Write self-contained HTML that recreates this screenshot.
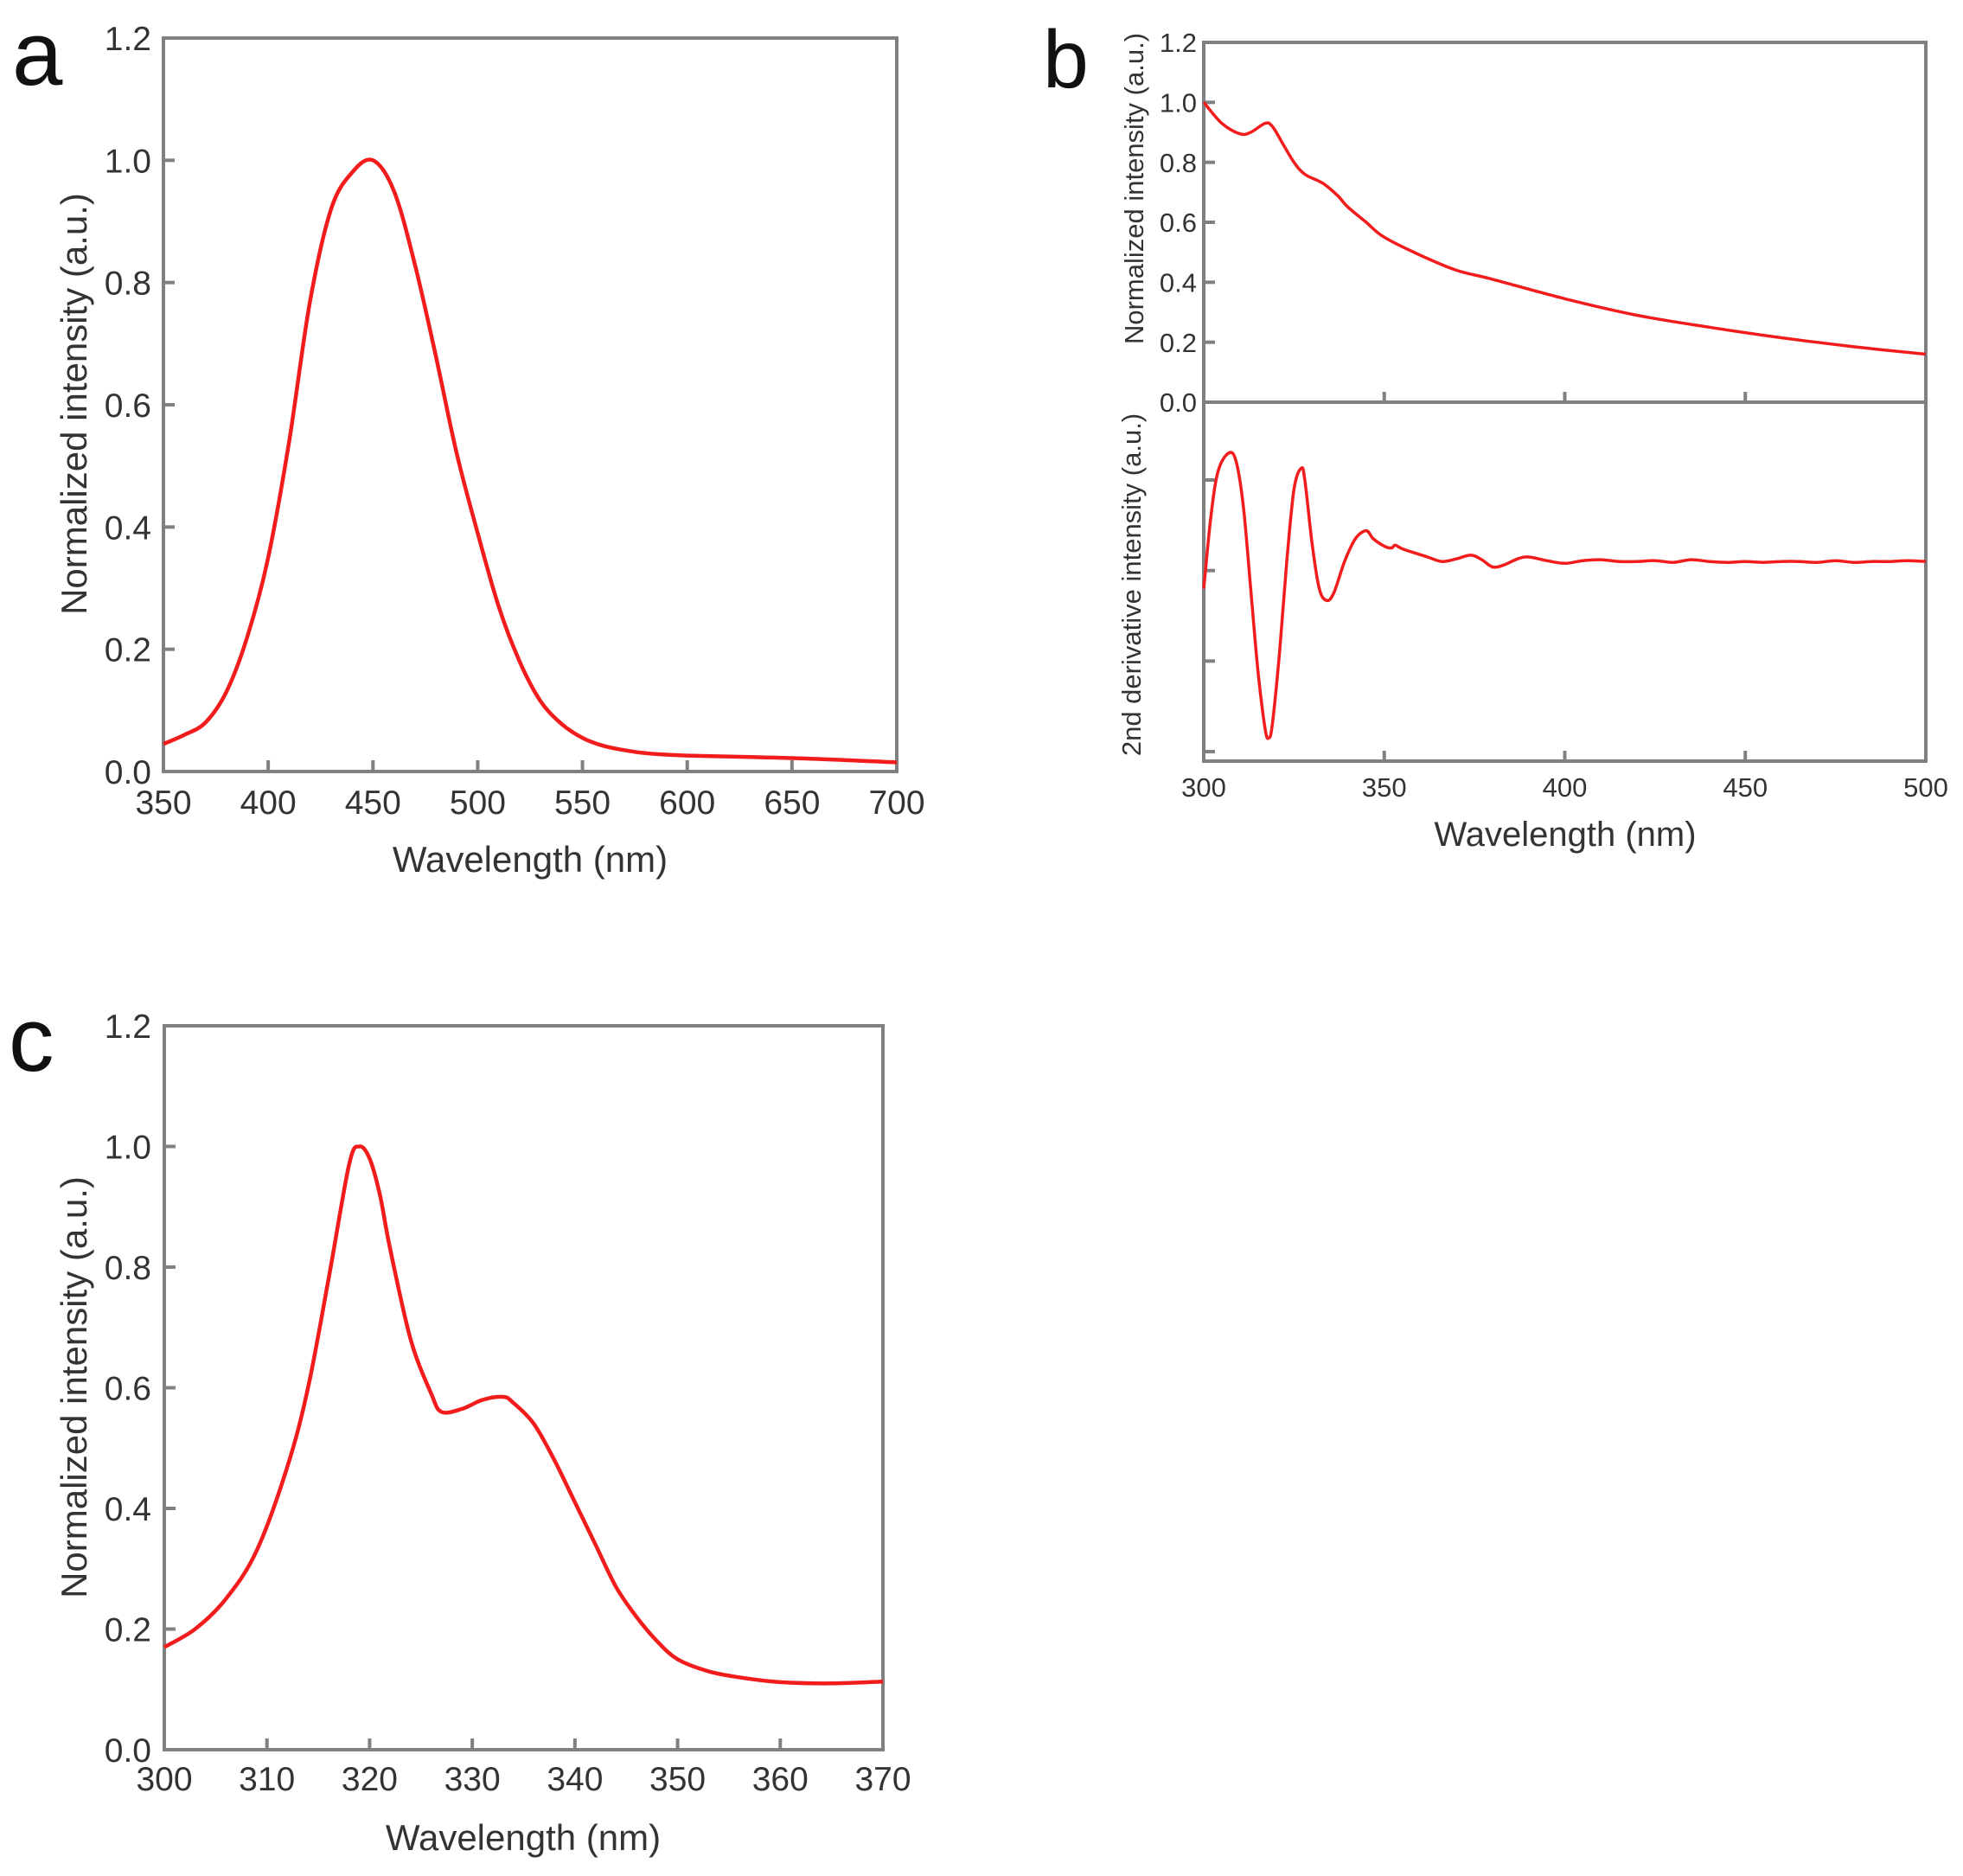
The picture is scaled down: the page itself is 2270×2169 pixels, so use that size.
<!DOCTYPE html>
<html><head><meta charset="utf-8"><style>
html,body{margin:0;padding:0;background:#fff;}
svg{display:block;}
text{font-family:"Liberation Sans",sans-serif;fill:#333;}
</style></head><body>
<svg id="fig" width="2270" height="2169" viewBox="0 0 2270 2169" xmlns="http://www.w3.org/2000/svg">
<text x="14" y="98" font-size="105" style="fill:#111">a</text>
<text x="1206" y="101" font-size="95" style="fill:#111">b</text>
<text x="10" y="1238" font-size="105" style="fill:#111">c</text>
</svg>
<script>
// Panel a data (emission)
const aX=[350,360,370,380,390,400,410,420,430,440,450,460,470,480,490,500,510,520,530,540,550,560,570,580,600,650,700];
const aY=[0.045,0.06,0.08,0.13,0.22,0.35,0.54,0.77,0.92,0.98,1.0,0.95,0.83,0.68,0.52,0.39,0.27,0.18,0.115,0.078,0.055,0.042,0.035,0.03,0.026,0.022,0.015];
const aXTicks=[350,400,450,500,550,600,650,700];
const aYTicks=[0.0,0.2,0.4,0.6,0.8,1.0,1.2];
// Panel b top (absorption)
const bX=[300,305,310,313,317,319,322,325,328,333,337,340,345,350,360,370,380,400,420,440,460,480,500];
const bY=[1.0,0.93,0.895,0.9,0.93,0.92,0.86,0.8,0.76,0.73,0.69,0.65,0.6,0.55,0.49,0.44,0.41,0.345,0.29,0.25,0.215,0.185,0.16];
// Panel b bottom (2nd derivative)
const dX=[300,302,304,307,309,311,313,315,317,318,319,321,323,325,327,328,330,332,334,336,339,342,345,347,350,352,353,355,358,362,366,370,374,377,380,383,387,390,395,400,405,410,415,420,425,430,435,440,445,450,455,460,465,470,475,480,485,490,495,500];
const dY=[-0.2,0.6,1.1,1.3,1.2,0.7,-0.2,-1.1,-1.75,-1.85,-1.7,-0.9,0.1,0.9,1.13,1.0,0.3,-0.2,-0.33,-0.25,0.1,0.35,0.44,0.35,0.27,0.25,0.28,0.24,0.2,0.15,0.1,0.13,0.17,0.12,0.04,0.06,0.13,0.15,0.11,0.08,0.11,0.12,0.1,0.1,0.11,0.09,0.12,0.1,0.09,0.1,0.09,0.1,0.1,0.09,0.11,0.09,0.1,0.1,0.11,0.1];
const bXTicks=[300,350,400,450,500];
const bYTicks=[0.0,0.2,0.4,0.6,0.8,1.0,1.2];
const dYTicks=[1,0,-1,-2];
// Panel c data (excitation)
const cX=[300,303,306,309,312,314,316,318,319,320,321,322,324,326,327,329,331,333,334,336,338,340,342,344,346,348,350,353,356,360,365,370];
const cY=[0.17,0.2,0.25,0.33,0.47,0.6,0.78,0.97,1.0,0.98,0.92,0.83,0.68,0.59,0.56,0.565,0.58,0.585,0.575,0.54,0.48,0.41,0.34,0.27,0.22,0.18,0.15,0.13,0.12,0.112,0.11,0.113];
const cXTicks=[300,310,320,330,340,350,360,370];

const NS="http://www.w3.org/2000/svg";
const svg=document.getElementById('fig');
function mk(tag,attrs,parent){const e=document.createElementNS(NS,tag);for(const k in attrs)e.setAttribute(k,attrs[k]);(parent||svg).appendChild(e);return e;}
function scale(d0,d1,r0,r1){return v=>r0+(v-d0)/(d1-d0)*(r1-r0);}
function smoothPath(xs,ys,sx,sy){
  const p=xs.map((x,i)=>[sx(x),sy(ys[i])]);
  let d='M'+p[0][0].toFixed(1)+','+p[0][1].toFixed(1);
  for(let i=0;i<p.length-1;i++){
    const p0=p[i-1]||p[i],p1=p[i],p2=p[i+1],p3=p[i+2]||p2;
    const c1=[p1[0]+(p2[0]-p0[0])/6,p1[1]+(p2[1]-p0[1])/6];
    const c2=[p2[0]-(p3[0]-p1[0])/6,p2[1]-(p3[1]-p1[1])/6];
    d+='C'+c1[0].toFixed(1)+','+c1[1].toFixed(1)+' '+c2[0].toFixed(1)+','+c2[1].toFixed(1)+' '+p2[0].toFixed(1)+','+p2[1].toFixed(1);
  }
  return d;
}
function frame(g,L,T,R,B){
  const r=mk('rect',{x:L,y:T,width:R-L,height:B-T,fill:'none',stroke:'#808080','stroke-width':4},g);
  
  
}
function xAxis(g,ticks,sx,B,labY,fs,tickUp,name){
  ticks.forEach(t=>{
    const x=sx(t);
    const tl=mk('line',{x1:x,x2:x,y1:B,y2:B-tickUp,stroke:'#808080','stroke-width':4},g);
    
    
    if(labY!==null){
      const tx=mk('text',{x:x,y:labY,'font-size':fs,'text-anchor':'middle'},g);
      tx.textContent=String(t);
      
      
    }
  });
}
function yAxis(g,ticks,sy,L,labX,fs,dec,name,showLab){
  ticks.forEach(t=>{
    const y=sy(t);
    const tl=mk('line',{x1:L,x2:L+13,y1:y,y2:y,stroke:'#808080','stroke-width':4},g);
    
    
    if(showLab){
      const tx=mk('text',{x:labX,y:y+fs*0.36,'font-size':fs,'text-anchor':'end'},g);
      tx.textContent=t.toFixed(dec);
      
      
    }
  });
}
function title(g,txt,x,y,fs,rot,name){
  const t=mk('text',{x:x,y:y,'font-size':fs,'text-anchor':'middle'},g);
  if(rot)t.setAttribute('transform','rotate(-90 '+x+' '+y+')');
  t.textContent=txt;
  
  
}
function curve(g,xs,ys,sx,sy,name,w){
  const p=mk('path',{d:smoothPath(xs,ys,sx,sy),fill:'none',stroke:'#f21c1c','stroke-width':w||4.5,'stroke-linejoin':'round'},g);
  
  
}

// Panel a
(function(){
  const g=mk('g',{});
  
  
  const L=189,R=1037,T=44,B=892;
  const sx=scale(350,700,L,R),sy=scale(0,1.2,B,T);
  frame(g,L,T,R,B);
  xAxis(g,aXTicks,sx,B,941,39,13,'panel-a');
  yAxis(g,aYTicks,sy,L,175,39,1,'panel-a',true);
  curve(g,aX,aY,sx,sy,'emission-curve');
  title(g,'Wavelength (nm)',613,1008,42,false,'panel-a-x-axis-title');
  title(g,'Normalized intensity (a.u.)',100,467,42,true,'panel-a-y-axis-title');
})();

// Panel b
(function(){
  const g=mk('g',{});
  
  
  const L=1392,R=2227,T=49,M=465,B=880;
  const sx=scale(300,500,L,R);
  const sy=scale(0,1.2,M,T);
  const sd=scale(1,-2,555,869);
  frame(g,L,T,R,B);
  const ml=mk('line',{x1:L,x2:R,y1:M,y2:M,stroke:'#808080','stroke-width':4},g);
  
  
  xAxis(g,bXTicks,sx,M,null,28,12,'panel-b-top');
  xAxis(g,bXTicks,sx,B,921,31,12,'panel-b');
  yAxis(g,bYTicks,sy,L,1384,31,1,'panel-b-top',true);
  yAxis(g,dYTicks,sd,L,1384,31,0,'panel-b-bottom',false);
  curve(g,bX,bY,sx,sy,'absorption-curve',3.5);
  curve(g,dX,dY,sx,sd,'second-derivative-curve',3.5);
  title(g,'Wavelength (nm)',1810,978,40,false,'panel-b-x-axis-title');
  title(g,'Normalized intensity (a.u.)',1322,218,31,true,'panel-b-top-y-axis-title');
  title(g,'2nd derivative intensity (a.u.)',1319,676,31,true,'panel-b-bottom-y-axis-title');
})();

// Panel c
(function(){
  const g=mk('g',{});
  
  
  const L=190,R=1021,T=1186,B=2023;
  const sx=scale(300,370,L,R),sy=scale(0,1.2,B,T);
  frame(g,L,T,R,B);
  xAxis(g,cXTicks,sx,B,2070,39,13,'panel-c');
  yAxis(g,aYTicks,sy,L,175,39,1,'panel-c',true);
  curve(g,cX,cY,sx,sy,'excitation-curve');
  title(g,'Wavelength (nm)',605,2139,42,false,'panel-c-x-axis-title');
  title(g,'Normalized intensity (a.u.)',100,1604,42,true,'panel-c-y-axis-title');
})();
</script>
</body></html>
